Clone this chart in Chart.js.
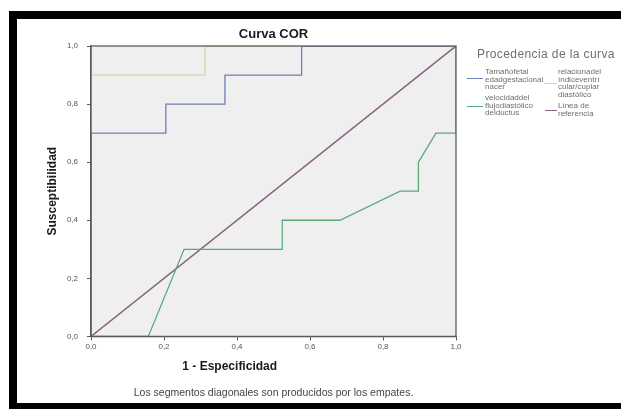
<!DOCTYPE html>
<html><head><meta charset="utf-8">
<script src="https://cdn.jsdelivr.net/npm/chart.js@4.4.0/dist/chart.umd.min.js"></script>
<style>
html,body{margin:0;padding:0;background:#fff;}
#wrap{position:relative;width:621px;height:409px;overflow:hidden;font-family:"Liberation Sans",Arial,sans-serif;}
#c{position:absolute;left:0;top:0;}
.bar{position:absolute;background:#000;z-index:5;}
.lg{position:absolute;color:#6e6e6e;white-space:nowrap;z-index:4;}
.lt{font-size:8px;line-height:7.6px;}
.mk{position:absolute;height:1.3px;z-index:4;}
</style></head>
<body>
<div id="wrap">
<canvas id="c" width="621" height="409"></canvas>
<div class="bar" style="left:9px;top:11px;width:612px;height:8px;"></div>
<div class="bar" style="left:9px;top:11px;width:8px;height:398px;"></div>
<div class="bar" style="left:9px;top:403px;width:612px;height:6px;"></div>
<div class="lg" id="lgt" style="left:477px;top:47px;font-size:12px;letter-spacing:0.4px;"></div>
<div class="mk" id="mk0" style="left:467px;top:78px;width:16px;"></div>
<div class="lg lt" id="lt0" style="left:485px;top:68px;"></div>
<div class="mk" id="mk1" style="left:544px;top:83px;width:13px;"></div>
<div class="lg lt" id="lt1" style="left:558px;top:68px;"></div>
<div class="mk" id="mk2" style="left:467px;top:106px;width:16px;"></div>
<div class="lg lt" id="lt2" style="left:485px;top:94px;"></div>
<div class="mk" id="mk3" style="left:545px;top:110px;width:12px;"></div>
<div class="lg lt" id="lt3" style="left:558px;top:102px;"></div>
</div>
<script>
// ---- data ----
const seriesNames = [
  ['Tamañofetal','edadgestacional','nacer'],
  ['relacionadel','índiceventrí','cular/cuplar','diastólico'],
  ['velocidaddel','flujodiastólico','delductus'],
  ['Línea de','referencia']
];
const seriesColors = ['#6f7fb8','#dcd3a2','#5aa97a','#86607f'];

const fpr1 = [0, 0, 0.205, 0.205, 0.367, 0.367, 0.577, 0.577, 1];
const tpr1 = [0, 0.7, 0.7, 0.8, 0.8, 0.9, 0.9, 1, 1];
const fpr2 = [0, 0, 0.312, 0.312, 1];
const tpr2 = [0, 0.9, 0.9, 1, 1];
const fpr3 = [0, 0.157, 0.255, 0.524, 0.524, 0.682, 0.847, 0.897, 0.897, 0.945, 1, 1];
const tpr3 = [0, 0, 0.3, 0.3, 0.4, 0.4, 0.5, 0.5, 0.6, 0.7, 0.7, 1];
const fprRef = [0, 1];
const tprRef = [0, 1];

const xTickLabels = ['0,0','0,2','0,4','0,6','0,8','1,0'];
const yTickLabels = ['0,0','0,2','0,4','0,6','0,8','1,0'];

const chartTitle = 'Curva COR';
const xTitle = '1 - Especificidad';
const yTitle = 'Susceptibilidad';
const footnote = 'Los segmentos diagonales son producidos por los empates.';
const legendTitle = 'Procedencia de la curva';

// ---- legend (html) ----
document.getElementById('lgt').textContent = legendTitle;
seriesNames.forEach((lines,i)=>{
  document.getElementById('lt'+i).innerHTML = lines.join('<br>');
  document.getElementById('mk'+i).style.background = seriesColors[i];
});

const FF = '"Liberation Sans", Arial, sans-serif';
const pts = (xs, ys) => xs.map((x,i)=>({x:x, y:ys[i]}));

const plotFrame = {
  id:'plotFrame',
  beforeDraw(chart){
    const a = chart.chartArea, ctx = chart.ctx;
    ctx.save();
    ctx.fillStyle = '#efefef';
    ctx.fillRect(a.left, a.top, a.right-a.left, a.bottom-a.top);
    ctx.restore();
  },
  afterDatasetsDraw(chart){
    const a = chart.chartArea, ctx = chart.ctx;
    ctx.save();
    ctx.strokeStyle = '#5c5c5c';
    ctx.lineWidth = 1.3;
    ctx.strokeRect(a.left, a.top, a.right-a.left, a.bottom-a.top);
    ctx.restore();
  },
  afterDraw(chart){
    const a = chart.chartArea, ctx = chart.ctx;
    ctx.save();
    ctx.font = 'bold 12px ' + FF;
    ctx.fillStyle = '#1a1a1a';
    ctx.textAlign = 'center';
    ctx.textBaseline = 'middle';
    ctx.fillText(xTitle, a.left + 0.38*(a.right-a.left), a.bottom + 30);
    ctx.restore();
  }
};

new Chart(document.getElementById('c'), {
  type:'scatter',
  data:{datasets:[
    {label:seriesNames[0].join(' '), data:pts(fpr1,tpr1), borderColor:seriesColors[0]},
    {label:seriesNames[1].join(' '), data:pts(fpr2,tpr2), borderColor:seriesColors[1]},
    {label:seriesNames[2].join(' '), data:pts(fpr3,tpr3), borderColor:seriesColors[2]},
    {label:seriesNames[3].join(' '), data:pts(fprRef,tprRef), borderColor:seriesColors[3], borderWidth:1.5}
  ].map(d=>Object.assign({showLine:true, pointRadius:0, borderWidth:1.3, tension:0, fill:false}, d))},
  options:{
    responsive:false, animation:false, devicePixelRatio:1,
    layout:{padding:{top:18,left:40,right:165,bottom:4}},
    plugins:{
      legend:{display:false},
      tooltip:{enabled:false},
      title:{display:true, text:chartTitle, fullSize:false, color:'#1a1a1a',
        font:{family:FF,size:13,weight:'bold'}, padding:{top:8.2,bottom:4.2}},
      subtitle:{display:true, text:footnote, position:'bottom', fullSize:false, color:'#444',
        font:{family:FF,size:10.5}, padding:{top:0,bottom:6}}
    },
    scales:{
      x:{type:'linear', min:0, max:1,
        ticks:{stepSize:0.2, color:'#555', font:{family:FF,size:8}, padding:2, maxRotation:0,
          callback:(v,i)=>xTickLabels[i]},
        grid:{drawOnChartArea:false, drawTicks:true, tickLength:4, color:'#555'},
        border:{color:'#5c5c5c', width:1.3},
        afterFit(s){ s.height = 50; }
      },
      y:{type:'linear', min:0, max:1,
        ticks:{stepSize:0.2, color:'#555', font:{family:FF,size:8}, padding:9,
          callback:(v,i)=>yTickLabels[i]},
        grid:{drawOnChartArea:false, drawTicks:true, tickLength:4, color:'#555'},
        border:{color:'#5c5c5c', width:1.3},
        title:{display:true, text:yTitle, color:'#1a1a1a', font:{family:FF,size:12,weight:'bold'}, padding:{top:5,bottom:0}},
        afterFit(s){ s.width = 51; }
      }
    }
  },
  plugins:[plotFrame]
});
</script>
</body></html>
